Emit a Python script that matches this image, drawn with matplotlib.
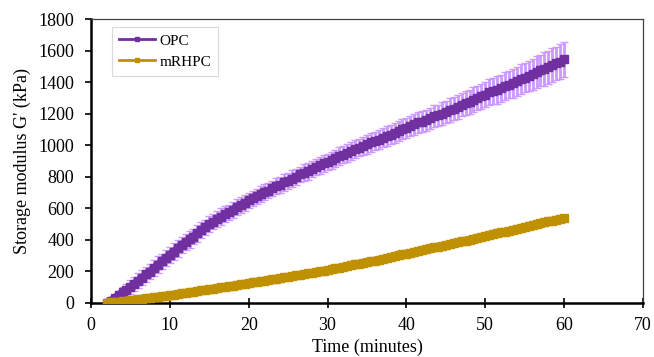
import numpy as np
import matplotlib
matplotlib.use("Agg")
import matplotlib.pyplot as plt
from matplotlib.lines import Line2D

plt.rcParams["font.family"] = ["Liberation Serif", "DejaVu Serif"]
plt.rcParams["font.size"] = 13

# sampling every half minute, 2 to 60 min
time_min = np.arange(2, 60.01, 0.5)

# storage modulus G' (kPa), mean of replicates
opc = [0, 12, 30, 48, 66, 82, 100, 120, 140, 158,
       180, 198, 220, 242, 262, 284, 305, 324, 345, 366,
       385, 402, 420, 442, 460, 478, 498, 514, 530, 547,
       562, 575, 590, 608, 622, 634, 650, 662, 675, 690,
       702, 712, 726, 740, 750, 764, 775, 788, 800, 815,
       826, 836, 850, 862, 872, 885, 895, 904, 918, 930,
       940, 950, 962, 976, 985, 994, 1005, 1018, 1027, 1036,
       1048, 1060, 1068, 1078, 1090, 1102, 1110, 1120, 1132, 1146,
       1150, 1158, 1172, 1184, 1190, 1200, 1212, 1224, 1232, 1244,
       1258, 1268, 1275, 1290, 1300, 1310, 1322, 1338, 1345, 1352,
       1362, 1376, 1385, 1394, 1405, 1420, 1430, 1440, 1452, 1466,
       1475, 1484, 1495, 1510, 1520, 1530, 1545]
opc_err = [8, 15, 22, 28, 34, 38, 42, 44, 46, 48,
           48, 50, 50, 52, 50, 52, 52, 54, 52, 50,
           50, 52, 50, 54, 52, 50, 50, 48, 50, 52,
           50, 48, 52, 50, 50, 52, 50, 48, 50, 52,
           50, 50, 48, 52, 50, 52, 50, 54, 52, 50,
           52, 54, 52, 50, 52, 54, 52, 56, 54, 56,
           55, 58, 56, 58, 56, 58, 58, 60, 58, 60,
           60, 62, 60, 62, 62, 64, 62, 64, 64, 66,
           66, 68, 66, 70, 68, 72, 70, 74, 72, 76,
           74, 78, 76, 80, 78, 82, 80, 84, 84, 88,
           86, 90, 88, 92, 90, 96, 94, 98, 98, 102,
           100, 106, 104, 108, 106, 110, 112]

mrhpc = [0, 2, 5, 7, 10, 12, 15, 18, 21, 24,
         27, 31, 34, 38, 41, 45, 48, 51, 55, 59,
         62, 66, 70, 74, 78, 82, 86, 90, 94, 97,
         101, 105, 109, 113, 117, 121, 125, 129, 133, 137,
         141, 145, 149, 153, 157, 161, 165, 170, 173, 177,
         181, 186, 190, 195, 199, 204, 208, 212, 218, 223,
         228, 232, 238, 243, 248, 253, 258, 263, 268, 274,
         279, 285, 290, 296, 301, 307, 312, 316, 323, 328,
         334, 340, 345, 351, 356, 362, 367, 373, 378, 384,
         390, 395, 401, 407, 413, 419, 425, 430, 436, 441,
         447, 452, 458, 463, 469, 474, 480, 486, 492, 498,
         504, 510, 516, 522, 528, 534, 540]
mrhpc_err = [2, 3, 3, 4, 4, 5, 5, 5, 6, 6,
             6, 6, 7, 7, 7, 7, 8, 8, 8, 8,
             8, 8, 9, 9, 9, 9, 9, 9, 9, 10,
             10, 10, 10, 10, 10, 10, 10, 10, 10, 10,
             10, 10, 10, 11, 11, 11, 11, 11, 11, 11,
             11, 11, 12, 12, 12, 12, 12, 12, 12, 12,
             12, 12, 12, 12, 13, 13, 13, 13, 13, 13,
             13, 13, 14, 14, 14, 14, 14, 14, 14, 14,
             14, 14, 15, 15, 15, 15, 15, 15, 15, 15,
             16, 16, 16, 16, 16, 16, 16, 16, 17, 17,
             17, 17, 17, 17, 18, 18, 18, 18, 18, 19,
             19, 19, 19, 20, 20, 20, 20]

series = [
    ("OPC", opc, opc_err, "#7030A0", "#CC99FF"),
    ("mRHPC", mrhpc, mrhpc_err, "#BF9000", "#FFD966"),
]

fig = plt.figure(figsize=(6.54, 3.57), dpi=100)
ax = fig.add_axes([0.1391, 0.152, 0.8441, 0.794])

handles = []
for name, y, err, col, ecol in series:
    ax.errorbar(time_min, y, yerr=err, fmt="none", ecolor=ecol,
                elinewidth=2, capsize=3, capthick=1, zorder=2)
    ax.plot(time_min, y, color=col, lw=5.5, marker="s", ms=6,
            solid_capstyle="round", zorder=3)
    handles.append(Line2D([], [], color=col, lw=2, marker="s", ms=3.5))

ax.set_xlim(0, 70)
ax.set_ylim(0, 1800)
ax.set_xticks(np.arange(0, 71, 10))
ax.set_yticks(np.arange(0, 1801, 200))
ax.tick_params(axis="x", direction="inout", length=7, width=1.2, pad=7)
ax.tick_params(axis="y", direction="out", length=4, width=1.2, pad=8)

for s in ("left", "bottom"):
    ax.spines[s].set_linewidth(1.8)
    ax.spines[s].set_color("black")
for s in ("top", "right"):
    ax.spines[s].set_linewidth(0.9)
    ax.spines[s].set_color("#404040")

ax.set_xlabel("Time (minutes)", labelpad=3)
ax.set_ylabel("Storage modulus G' (kPa)", labelpad=5)

leg = ax.legend(handles, ["OPC", "mRHPC"], loc="upper left",
                bbox_to_anchor=(0.038, 0.973), borderaxespad=0,
                fancybox=False, edgecolor="#D9D9D9", framealpha=1,
                handlelength=2.35, handletextpad=0.3, borderpad=0.45,
                labelspacing=0.5, fontsize=11)
leg.get_frame().set_linewidth(0.8)

fig.savefig("out.png", dpi=100)
